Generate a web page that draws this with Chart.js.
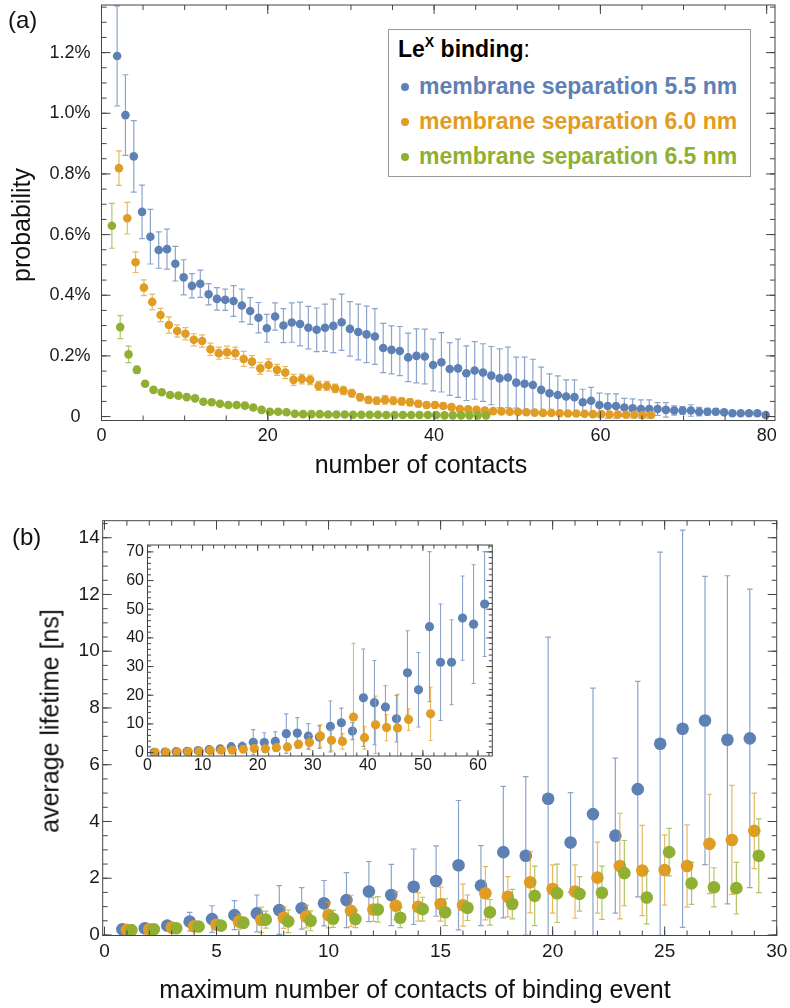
<!DOCTYPE html>
<html lang="en">
<head>
<meta charset="UTF-8" />
<title>LeX binding: contacts and lifetimes</title>
<script src="https://cdn.jsdelivr.net/npm/chart.js"></script>
<style>
  * { margin: 0; padding: 0; box-sizing: border-box; }
  body {
    width: 790px; height: 1008px; overflow: hidden; position: relative;
    background: #fff; color: #111;
    font-family: 'Liberation Sans', Arial, sans-serif;
  }
  canvas { position: absolute; left: 0; }
  .lbl { position: absolute; white-space: nowrap; line-height: 1; }
  .panel { font-size: 24px; }
  .axis-title { font-size: 25px; transform: translate(-50%, -50%); }
  .axis-title.vert { transform: translate(-50%, -50%) rotate(-90deg); }

  /* legend box of panel (a) */
  #legend {
    position: absolute; left: 388px; top: 29px; width: 363px; height: 148px;
    border: 1px solid #9a9a9a; background: #fff;
  }
  #legend .row { position: absolute; left: 0; width: 100%; height: 23px; font-size: 23px; font-weight: bold; }
  #legend .dot { position: absolute; left: 12px; top: 8px; width: 8px; height: 8px; border-radius: 50%; }
  #legend .txt { position: absolute; left: 30px; top: 0; white-space: nowrap; line-height: 1; }
  #legend .head { position: absolute; left: 9px; top: 8px; font-size: 23px; line-height: 1; white-space: nowrap; color: #000; }
  #legend sup { font-size: 14px; position: relative; top: -1px; vertical-align: 9px; line-height: 0; }
</style>
</head>
<body>
  <canvas id="chartA" width="790" height="490" style="top:0"></canvas>
  <canvas id="chartB" width="790" height="518" style="top:490px"></canvas>
  <canvas id="chartInset" width="400" height="250" style="top:530px; left:100px"></canvas>

  <div class="lbl panel" style="left:8px; top:8px">(a)</div>
  <div class="lbl panel" style="left:12px; top:525px">(b)</div>

  <div class="lbl axis-title" style="left:421px; top:464px">number of contacts</div>
  <div class="lbl axis-title vert" style="left:21px; top:225px">probability</div>
  <div class="lbl axis-title" style="left:415px; top:989px">maximum number of contacts of binding event</div>
  <div class="lbl axis-title vert" style="left:50px; top:721px">average lifetime [ns]</div>

  <div id="legend">
    <div class="head"><b>Le<sup>X</sup> binding</b>:</div>
  </div>

<script>
// ---- series ----
const seriesNames = ['membrane separation 5.5 nm', 'membrane separation 6.0 nm', 'membrane separation 6.5 nm'];
const seriesColors = ['#5E81B5', '#E19C24', '#8FB032'];
const errorColors = ['rgba(94,129,181,0.72)', 'rgba(225,156,36,0.72)', 'rgba(143,176,50,0.72)'];

// ---- (a) probability [%] vs number of contacts ----
const firstContactA = [2, 2, 1];   // first contact number of each series

const probBlue = [1.189, 0.994, 0.858, 0.675, 0.593, 0.549, 0.552, 0.504, 0.459, 0.431,
  0.438, 0.403, 0.388, 0.385, 0.381, 0.366, 0.348, 0.326, 0.291, 0.330,
  0.300, 0.310, 0.305, 0.293, 0.286, 0.293, 0.299, 0.311, 0.289, 0.279,
  0.271, 0.264, 0.226, 0.220, 0.216, 0.195, 0.200, 0.198, 0.170, 0.179,
  0.157, 0.159, 0.143, 0.152, 0.145, 0.135, 0.126, 0.129, 0.112, 0.108,
  0.104, 0.088, 0.077, 0.071, 0.066, 0.064, 0.047, 0.052, 0.038, 0.035,
  0.035, 0.030, 0.027, 0.025, 0.025, 0.025, 0.022, 0.020, 0.020, 0.020,
  0.016, 0.016, 0.016, 0.014, 0.011, 0.011, 0.011, 0.011, 0.005];
const probBlueErr = [0.165, 0.133, 0.118, 0.088, 0.090, 0.060, 0.066, 0.057, 0.058, 0.040,
  0.045, 0.035, 0.037, 0.035, 0.051, 0.054, 0.044, 0.050, 0.046, 0.045,
  0.056, 0.065, 0.072, 0.070, 0.072, 0.078, 0.088, 0.093, 0.090, 0.092,
  0.093, 0.092, 0.081, 0.079, 0.081, 0.080, 0.089, 0.090, 0.085, 0.098,
  0.087, 0.096, 0.090, 0.095, 0.095, 0.096, 0.097, 0.100, 0.084, 0.088,
  0.085, 0.075, 0.064, 0.063, 0.055, 0.057, 0.043, 0.044, 0.039, 0.040,
  0.040, 0.030, 0.031, 0.030, 0.030, 0.021, 0.024, 0.015, 0.013, 0.019,
  0.014, 0.011, 0.010, 0.008, 0.006, 0.005, 0.005, 0.004, 0.003];

const probOrange = [0.819, 0.654, 0.509, 0.425, 0.378, 0.335, 0.302, 0.282, 0.273, 0.253,
  0.249, 0.222, 0.209, 0.212, 0.209, 0.190, 0.181, 0.159, 0.170, 0.154,
  0.145, 0.121, 0.124, 0.121, 0.101, 0.101, 0.093, 0.086, 0.077, 0.064,
  0.055, 0.052, 0.055, 0.052, 0.050, 0.047, 0.042, 0.038, 0.038, 0.035,
  0.031, 0.025, 0.024, 0.022, 0.020, 0.018, 0.017, 0.016, 0.015, 0.014,
  0.013, 0.012, 0.012, 0.011, 0.010, 0.010, 0.009, 0.008, 0.008, 0.007,
  0.007, 0.006, 0.006, 0.005, 0.005];
const probOrangeErr = [0.057, 0.052, 0.034, 0.026, 0.026, 0.022, 0.027, 0.020, 0.020, 0.020,
  0.020, 0.020, 0.020, 0.020, 0.020, 0.025, 0.020, 0.020, 0.020, 0.018,
  0.020, 0.018, 0.016, 0.016, 0.015, 0.015, 0.014, 0.014, 0.013, 0.012,
  0.010, 0.012, 0.014, 0.013, 0.012, 0.012, 0.010, 0.010, 0.010, 0.009,
  0.009, 0.008, 0.008, 0.007, 0.007, 0.006, 0.006, 0.006, 0.005, 0.005,
  0.005, 0.004, 0.004, 0.004, 0.004, 0.003, 0.003, 0.003, 0.003, 0.003,
  0.002, 0.002, 0.002, 0.002, 0.002];

const probGreen = [0.629, 0.295, 0.205, 0.154, 0.108, 0.088, 0.080, 0.071, 0.069, 0.064,
  0.060, 0.049, 0.047, 0.042, 0.038, 0.038, 0.036, 0.030, 0.022, 0.016,
  0.016, 0.014, 0.009, 0.008, 0.008, 0.008, 0.007, 0.007, 0.007, 0.006,
  0.006, 0.006, 0.006, 0.005, 0.005, 0.005, 0.005, 0.005, 0.005, 0.005,
  0.004, 0.004, 0.004, 0.004, 0.004, 0.004];
const probGreenErr = [0.074, 0.038, 0.027, 0.012, 0.008, 0.006, 0.005, 0.005, 0.005, 0.004,
  0.004, 0.004, 0.004, 0.003, 0.003, 0.003, 0.003, 0.003, 0.003, 0.002,
  0.002, 0.002, 0.002, 0.002, 0.002, 0.002, 0.002, 0.002, 0.002, 0.002,
  0.002, 0.002, 0.002, 0.002, 0.002, 0.002, 0.002, 0.002, 0.002, 0.002,
  0.001, 0.001, 0.001, 0.001, 0.001, 0.001];

const xTicksA = [0, 20, 40, 60, 80];
const yTicksA = [0, 0.2, 0.4, 0.6, 0.8, 1.0, 1.2];
const yTickLabelsA = ['0\u2007', '0.2%', '0.4%', '0.6%', '0.8%', '1.0%', '1.2%'];

// ---- (b) average lifetime [ns] vs max number of contacts ----
const maxContacts = [1, 2, 3, 4, 5, 6, 7, 8, 9, 10, 11, 12, 13, 14, 15, 16, 17, 18, 19, 20,
  21, 22, 23, 24, 25, 26, 27, 28, 29];
const lifeBlue = [0.20, 0.24, 0.33, 0.47, 0.56, 0.70, 0.76, 0.88, 0.94, 1.12,
  1.23, 1.53, 1.41, 1.70, 1.90, 2.46, 1.74, 2.92, 2.79, 4.80,
  3.26, 4.26, 3.50, 5.14, 6.74, 7.27, 7.56, 6.88, 6.93];
const lifeBlueErr = [0.05, 0.08, 0.15, 0.33, 0.47, 0.51, 0.65, 0.86, 0.73, 0.80,
  0.97, 1.06, 1.08, 1.33, 1.24, 2.28, 1.41, 2.32, 2.79, 5.70,
  1.76, 4.44, 2.73, 3.80, 6.75, 7.00, 5.08, 5.78, 5.26];
const lifeOrange = [0.18, 0.20, 0.26, 0.31, 0.36, 0.47, 0.53, 0.61, 0.65, 0.70,
  0.85, 0.90, 1.03, 0.99, 1.09, 1.05, 1.47, 1.35, 1.86, 1.62,
  1.53, 2.02, 2.43, 2.27, 2.29, 2.43, 3.21, 3.35, 3.67];
const lifeOrangeErr = [0.03, 0.05, 0.08, 0.12, 0.15, 0.27, 0.45, 0.38, 0.40, 0.45,
  0.55, 0.42, 0.50, 0.50, 0.60, 0.74, 0.94, 0.71, 1.08, 0.85,
  0.94, 1.25, 1.86, 1.59, 1.24, 1.45, 1.75, 1.92, 1.33];
const lifeGreen = [0.17, 0.20, 0.24, 0.30, 0.33, 0.43, 0.54, 0.48, 0.50, 0.57,
  0.56, 0.90, 0.61, 0.91, 0.80, 0.96, 0.80, 1.09, 1.38, 1.47,
  1.45, 1.49, 2.18, 1.32, 2.92, 1.82, 1.68, 1.65, 2.79];
const lifeGreenErr = [0.03, 0.04, 0.06, 0.08, 0.10, 0.20, 0.30, 0.40, 0.35, 0.30,
  0.30, 0.45, 0.35, 0.42, 0.47, 0.45, 0.45, 0.52, 1.05, 1.03,
  0.61, 0.94, 1.15, 0.93, 0.84, 0.74, 0.69, 0.91, 1.30];

const xTicksB = [0, 5, 10, 15, 20, 25, 30];
const yTicksB = [0, 2, 4, 6, 8, 10, 12, 14];

// ---- (b) inset: binned contacts, full range ----
const binnedContacts = [1, 3, 5, 7, 9, 11, 13, 15, 17, 19, 21, 23, 25, 27, 29, 31,
  33, 35, 37, 39, 41, 43, 45, 47, 49, 51, 53, 55, 57, 59, 61];
const insetBlue = [0.1, 0.2, 0.3, 0.45, 0.68, 1.0, 1.26, 1.96, 2.1, 3.6,
  3.5, 3.9, 6.6, 6.8, 5.7, 5.4, 9.1, 10.4, 7.5, 19.1,
  17.4, 15.9, 11.8, 27.8, 21.9, 43.9, 31.5, 31.5, 46.9, 44.8, 51.8];
const insetBlueErr = [0.05, 0.1, 0.15, 0.2, 0.3, 0.4, 0.6, 1.5, 1.6, 4.4,
  3.4, 3.3, 6.9, 5.4, 4.4, 4.0, 8.9, 5.1, 3.0, 17.0,
  14.7, 7.4, 8.1, 14.7, 13.0, 26.2, 20.3, 14.8, 14.7, 20.7, 18.3];
const insetOrange = [0.05, 0.1, 0.2, 0.35, 0.45, 0.7, 0.8, 0.8, 1.15, 1.4,
  1.3, 1.7, 1.96, 2.9, 3.5, 5.8, 4.3, 3.9, 12.4, 5.2,
  9.7, 8.7, 8.6, 11.5, null, 13.5];
const insetOrangeErr = [0.05, 0.05, 0.1, 0.1, 0.15, 0.2, 0.3, 0.3, 0.4, 0.5,
  0.5, 0.6, 0.7, 1.4, 2.5, 3.9, 3.7, 2.7, 25.7, 4.0,
  10.0, 4.6, 11.7, 3.8, null, 9.3];

const xTicksInset = [0, 10, 20, 30, 40, 50, 60];
const yTicksInset = [0, 10, 20, 30, 40, 50, 60, 70];

// ---- legend rows ----
const legend = document.getElementById('legend');
seriesNames.forEach((name, i) => {
  const row = document.createElement('div');
  row.className = 'row';
  row.style.top = (44.5 + 35 * i) + 'px';
  row.style.color = seriesColors[i];
  row.innerHTML = '<span class="dot" style="background:' + seriesColors[i] + '"></span><span class="txt">' + name + '</span>';
  legend.appendChild(row);
});

// ---- plugins ----
// error bars, drawn under each series' points, clipped to the frame
const errorBars = {
  id: 'errorBars',
  beforeDatasetDraw(chart, args, opts) {
    const ds = chart.data.datasets[args.index];
    if (!ds.errors) return;
    const { ctx, chartArea: a } = chart;
    const yScale = chart.scales.y;
    ctx.save();
    ctx.beginPath();
    ctx.rect(a.left, a.top, a.right - a.left, a.bottom - a.top);
    ctx.clip();
    ctx.strokeStyle = ds.errorColor;
    ctx.lineWidth = opts.width;
    args.meta.data.forEach((pt, i) => {
      const d = ds.data[i], e = ds.errors[i];
      if (d.y == null || e == null) return;
      const yt = yScale.getPixelForValue(d.y + e);
      const yb = yScale.getPixelForValue(d.y - e);
      const c = opts.cap;
      ctx.beginPath();
      ctx.moveTo(pt.x, yt); ctx.lineTo(pt.x, yb);
      ctx.moveTo(pt.x - c, yt); ctx.lineTo(pt.x + c, yt);
      ctx.moveTo(pt.x - c, yb); ctx.lineTo(pt.x + c, yb);
      ctx.stroke();
    });
    ctx.restore();
  }
};

// frame with inward ticks on all four sides
const frameTicks = {
  id: 'frameTicks',
  beforeDraw(chart, args, opts) {
    if (!opts.fill) return;
    const { ctx, chartArea: a } = chart;
    ctx.save();
    ctx.fillStyle = opts.fill;
    ctx.fillRect(a.left, a.top, a.right - a.left, a.bottom - a.top);
    ctx.restore();
  },
  afterDraw(chart, args, opts) {
    const { ctx, chartArea: a, scales: { x, y } } = chart;
    ctx.save();
    ctx.strokeStyle = '#454545';
    ctx.lineWidth = 1;
    ctx.strokeRect(a.left, a.top, a.right - a.left, a.bottom - a.top);
    const marks = (scale, step) => {
      const out = [];
      for (let v = Math.ceil(scale.min / step) * step; v <= scale.max + 1e-9; v += step) out.push(v);
      return out;
    };
    const drawX = (vals, len) => vals.forEach(v => {
      const px = x.getPixelForValue(v);
      ctx.beginPath();
      ctx.moveTo(px, a.bottom); ctx.lineTo(px, a.bottom - len);
      ctx.moveTo(px, a.top); ctx.lineTo(px, a.top + len);
      ctx.stroke();
    });
    const drawY = (vals, len) => vals.forEach(v => {
      const py = y.getPixelForValue(v);
      ctx.beginPath();
      ctx.moveTo(a.left, py); ctx.lineTo(a.left + len, py);
      ctx.moveTo(a.right, py); ctx.lineTo(a.right - len, py);
      ctx.stroke();
    });
    drawX(marks(x, opts.xMinor), opts.minorLen);
    drawY(marks(y, opts.yMinor), opts.minorLen);
    drawX(x.ticks.map(t => t.value), opts.majorLen);
    drawY(y.ticks.map(t => t.value), opts.majorLen);
    ctx.restore();
  }
};

// ---- helpers ----
function points(xs, ys, dx) {
  return ys.map((v, i) => ({ x: xs[i] + dx, y: v }));
}
function range(from, count) {
  return Array.from({ length: count }, (_, i) => from + i);
}
function series(i, xs, ys, errs, dx, radius) {
  return {
    label: seriesNames[i],
    data: points(xs, ys, dx),
    errors: errs,
    errorColor: errorColors[i],
    pointBackgroundColor: seriesColors[i],
    backgroundColor: seriesColors[i],
    borderColor: seriesColors[i],
    pointBorderWidth: 0,
    pointRadius: radius,
    pointHoverRadius: radius,
    order: 3 - i
  };
}
function axis(o) {
  return {
    type: 'linear',
    min: o.min, max: o.max,
    grid: { display: false, drawTicks: false },
    border: { display: false },
    afterBuildTicks: s => { s.ticks = o.ticks.map(v => ({ value: v })); },
    afterFit: s => {
      if (o.width != null) { s.width = o.width; s.paddingTop = 0; s.paddingBottom = 0; }
      if (o.height != null) { s.height = o.height; s.paddingLeft = 0; s.paddingRight = 0; }
    },
    ticks: {
      autoSkip: false, maxRotation: 0, minRotation: 0,
      padding: o.pad, color: '#1a1a1a',
      font: { family: "'Liberation Sans', Arial, sans-serif", size: o.font },
      callback: (v, i) => (o.labels ? o.labels[i] : String(v))
    }
  };
}
function panel(id, datasets, scales, padding, frame, err) {
  return new Chart(document.getElementById(id), {
    type: 'scatter',
    data: { datasets },
    options: {
      responsive: false, animation: false, events: [],
      layout: { padding },
      scales,
      plugins: {
        legend: { display: false }, tooltip: { enabled: false },
        frameTicks: frame, errorBars: err
      }
    },
    plugins: [errorBars, frameTicks]
  });
}

// ---- (a) ----
panel('chartA', [
  series(0, range(firstContactA[0], probBlue.length), probBlue, probBlueErr, -0.12, 4.3),
  series(1, range(firstContactA[1], probOrange.length), probOrange, probOrangeErr, 0.1, 4.3),
  series(2, range(firstContactA[2], probGreen.length), probGreen, probGreenErr, 0.25, 4.3)
], {
  x: axis({ min: 0, max: 81, ticks: xTicksA, height: 69.5, pad: 5, font: 18 }),
  y: axis({ min: -0.013, max: 1.357, ticks: yTicksA, labels: yTickLabelsA, width: 101.5, pad: 11, font: 18 })
}, { top: 5, right: 15, left: 0, bottom: 0 },
{ xMinor: 5, yMinor: 0.05, majorLen: 9, minorLen: 5 },
{ width: 1.2, cap: 3 });

// ---- (b) ----
panel('chartB', [
  series(0, maxContacts, lifeBlue, lifeBlueErr, -0.2, 6.3),
  series(1, maxContacts, lifeOrange, lifeOrangeErr, 0, 6.3),
  series(2, maxContacts, lifeGreen, lifeGreenErr, 0.2, 6.3)
], {
  x: axis({ min: -0.08, max: 30, ticks: xTicksB, height: 72.5, pad: 5, font: 19 }),
  y: axis({ min: -0.018, max: 14.6, ticks: yTicksB, width: 102.7, pad: 3, font: 19 })
}, { top: 30.7, right: 13.3, left: 0, bottom: 0 },
{ xMinor: 1, yMinor: 0.5, majorLen: 9, minorLen: 5 },
{ width: 1.2, cap: 2.8 });

// ---- (b) inset ----
panel('chartInset', [
  series(0, binnedContacts, insetBlue, insetBlueErr, 0.2, 4.6),
  series(1, binnedContacts.slice(0, insetOrange.length), insetOrange, insetOrangeErr, 0.4, 4.6)
], {
  x: axis({ min: 0, max: 62.6, ticks: xTicksInset, height: 24, pad: 0, font: 16 }),
  y: axis({ min: -1.2, max: 72.4, ticks: yTicksInset, width: 47.5, pad: 3.5, font: 16 })
}, { top: 15, right: 7.7, left: 0, bottom: 0 },
{ xMinor: 2, yMinor: 2, majorLen: 6, minorLen: 3.5, fill: '#fff' },
{ width: 1.1, cap: 2 });
</script>
</body>
</html>
